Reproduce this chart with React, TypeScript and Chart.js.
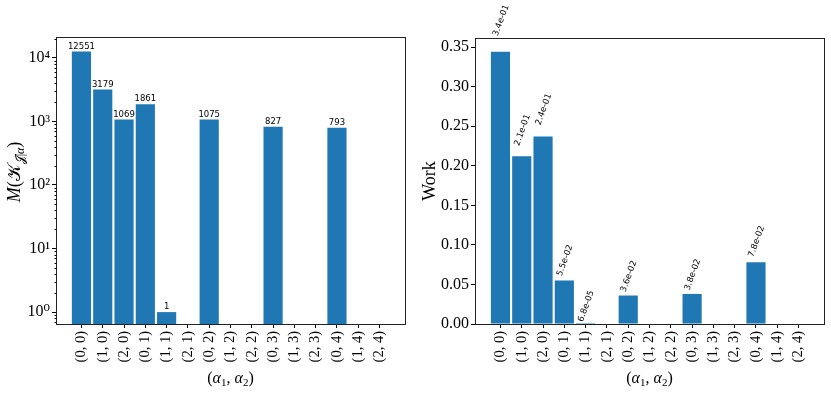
import React, { useEffect, useRef } from 'react';
import { Chart, registerables } from 'chart.js';

Chart.register(...registerables);

const categories = ['(0, 0)', '(1, 0)', '(2, 0)', '(0, 1)', '(1, 1)', '(2, 1)', '(0, 2)', '(1, 2)', '(2, 2)', '(0, 3)', '(1, 3)', '(2, 3)', '(0, 4)', '(1, 4)', '(2, 4)'];
const kernelSizes: (number | null)[] = [12551, 3179, 1069, 1861, 1, null, 1075, null, null, 827, null, null, 793, null, null];
const workValues = [0.344, 0.212, 0.237, 0.055, 0.000068, 0, 0.036, 0, 0, 0.038, 0, 0, 0.078, 0, 0];
const logTickValues = [1, 10, 100, 1000, 10000];
const logTickLabels = ['10⁰', '10¹', '10²', '10³', '10⁴'];
const workTickValues = [0, 0.05, 0.1, 0.15, 0.2, 0.25, 0.3, 0.35];
const workTickLabels = ['0.00', '0.05', '0.10', '0.15', '0.20', '0.25', '0.30', '0.35'];

const BAR = '#1f77b4';
const SERIF = '"Liberation Serif", "DejaVu Serif", serif';
const LABEL_FONT = '8.5px "DejaVu Sans", sans-serif';
const XTICK_FONT = `14.5px ${SERIF}`;

type Seg = { t: string; font: string; dy?: number };

function drawRich(ctx: CanvasRenderingContext2D, segs: Seg[], cx: number, cy: number, rotate: boolean) {
  ctx.save();
  ctx.translate(cx, cy);
  if (rotate) ctx.rotate(-Math.PI / 2);
  ctx.fillStyle = '#000';
  ctx.textBaseline = 'alphabetic';
  ctx.textAlign = 'left';
  let total = 0;
  for (const s of segs) {
    ctx.font = s.font;
    total += ctx.measureText(s.t).width;
  }
  let x = -total / 2;
  for (const s of segs) {
    ctx.font = s.font;
    ctx.fillText(s.t, x, s.dy || 0);
    x += ctx.measureText(s.t).width;
  }
  ctx.restore();
}

const xTitleSegs: Seg[] = [
  { t: '(', font: `16px ${SERIF}` },
  { t: 'α', font: `italic 16px ${SERIF}` },
  { t: '1', font: `11px ${SERIF}`, dy: 3 },
  { t: ', ', font: `16px ${SERIF}` },
  { t: 'α', font: `italic 16px ${SERIF}` },
  { t: '2', font: `11px ${SERIF}`, dy: 3 },
  { t: ')', font: `16px ${SERIF}` },
];

const leftYTitleSegs: Seg[] = [
  { t: 'M', font: `italic 18px ${SERIF}` },
  { t: '(', font: `18px ${SERIF}` },
  { t: '𝒦', font: `18px ${SERIF}` },
  { t: '𝒥|', font: `12px ${SERIF}`, dy: 4 },
  { t: 'α', font: `italic 12px ${SERIF}`, dy: 4 },
  { t: ')', font: `18px ${SERIF}` },
];

function fmtExp(v: number) {
  const s = v.toExponential(1);
  const [m, e] = s.split('e');
  const sign = e[0] === '-' ? '-' : '+';
  const digits = e.replace(/^[-+]/, '').padStart(2, '0');
  return `${m}e${sign}${digits}`;
}

const framePlugin = {
  id: 'frame',
  afterDraw(chart: any) {
    const { ctx, chartArea } = chart;
    const l = Math.round(chartArea.left) + 0.5;
    const t = Math.round(chartArea.top) + 0.5;
    const r = Math.round(chartArea.right) + 0.5;
    const b = Math.round(chartArea.bottom) + 0.5;
    ctx.save();
    ctx.strokeStyle = '#222';
    ctx.lineWidth = 1;
    ctx.strokeRect(l, t, r - l, b - t);
    // x tick labels, rotated 90 degrees, reading bottom to top
    const xs = chart.scales.x;
    ctx.fillStyle = '#000';
    ctx.font = XTICK_FONT;
    ctx.textAlign = 'right';
    ctx.textBaseline = 'middle';
    categories.forEach((c, i) => {
      ctx.save();
      ctx.translate(xs.getPixelForValue(i), chartArea.bottom + 7);
      ctx.rotate(-Math.PI / 2);
      ctx.fillText(c, 0, 0);
      ctx.restore();
    });
    ctx.restore();
  },
};

function xScaleOpts() {
  return {
    type: 'linear' as const,
    min: -1.195,
    max: 15.195,
    offset: false,
    afterBuildTicks: (s: any) => {
      s.ticks = categories.map((_, i) => ({ value: i }));
    },
    afterFit: (s: any) => {
      s.height = 69;
      s.paddingLeft = 0;
      s.paddingRight = 0;
      s.paddingTop = 0;
      s.paddingBottom = 0;
    },
    grid: { display: true, offset: false, drawOnChartArea: false, drawTicks: true, tickLength: 4, color: '#000', lineWidth: 1 },
    border: { display: false },
    ticks: { display: false },
  };
}

function yFit(width: number) {
  return (s: any) => {
    s.width = width;
    s.paddingLeft = 0;
    s.paddingRight = 0;
    s.paddingTop = 0;
    s.paddingBottom = 0;
  };
}

function LeftChart() {
  const ref = useRef<HTMLCanvasElement>(null);
  useEffect(() => {
    const labelsPlugin = {
      id: 'leftLabels',
      afterDraw(chart: any) {
        const { ctx } = chart;
        const xs = chart.scales.x;
        const ys = chart.scales.y;
        ctx.save();
        ctx.fillStyle = '#000';
        ctx.font = LABEL_FONT;
        ctx.textAlign = 'center';
        ctx.textBaseline = 'bottom';
        kernelSizes.forEach((v, i) => {
          if (v == null) return;
          ctx.fillText(String(v), xs.getPixelForValue(i), ys.getPixelForValue(v * 1.05) + 0.5);
        });
        // minor log ticks
        ctx.strokeStyle = '#000';
        ctx.lineWidth = 1;
        const left = Math.round(chart.chartArea.left) + 0.5;
        for (let d = -1; d <= 4; d++) {
          for (let k = 2; k <= 9; k++) {
            const val = k * Math.pow(10, d);
            if (val < ys.min || val > ys.max) continue;
            const y = Math.round(ys.getPixelForValue(val)) + 0.5;
            ctx.beginPath();
            ctx.moveTo(left - 2, y);
            ctx.lineTo(left, y);
            ctx.stroke();
          }
        }
        drawRich(ctx, xTitleSegs, (chart.chartArea.left + chart.chartArea.right) / 2, 383, false);
        drawRich(ctx, leftYTitleSegs, 20, 172, true);
        ctx.restore();
      },
    };
    const chart = new Chart(ref.current!, {
      type: 'bar',
      data: {
        datasets: [
          {
            data: kernelSizes.map((y, i) => ({ x: i, y })) as any,
            backgroundColor: BAR,
            borderWidth: 0,
            barPercentage: 0.9,
            categoryPercentage: 1,
          },
        ],
      },
      options: {
        responsive: false,
        animation: false,
        devicePixelRatio: 1,
        layout: { autoPadding: false, padding: { top: 37, right: 10, left: 0, bottom: 0 } },
        plugins: { legend: { display: false }, tooltip: { enabled: false } },
        scales: {
          x: xScaleOpts() as any,
          y: {
            type: 'logarithmic',
            min: 0.65,
            max: 21300,
            afterBuildTicks: (s: any) => {
              s.ticks = logTickValues.map((v) => ({ value: v, major: true }));
            },
            afterFit: yFit(56),
            grid: { display: true, drawOnChartArea: false, drawTicks: true, tickLength: 4, color: '#000', lineWidth: 1 },
            border: { display: false },
            ticks: {
              padding: 2,
              color: '#000',
              font: { family: SERIF, size: 16 },
              callback: (v: any) => {
                const idx = logTickValues.indexOf(Number(v));
                return idx >= 0 ? logTickLabels[idx] : '';
              },
            },
          },
        },
      },
      plugins: [framePlugin, labelsPlugin],
    });
    return () => chart.destroy();
  }, []);
  return <canvas ref={ref} width={415} height={393} style={{ position: 'absolute', left: 0, top: 0, width: 415, height: 393 }} />;
}

function RightChart() {
  const ref = useRef<HTMLCanvasElement>(null);
  useEffect(() => {
    const labelsPlugin = {
      id: 'rightLabels',
      afterDraw(chart: any) {
        const { ctx } = chart;
        const xs = chart.scales.x;
        const ys = chart.scales.y;
        const ang = (70 * Math.PI) / 180;
        ctx.save();
        ctx.fillStyle = '#000';
        ctx.font = LABEL_FONT;
        ctx.textAlign = 'left';
        ctx.textBaseline = 'bottom';
        workValues.forEach((v, i) => {
          if (!v) return;
          const s = fmtExp(v);
          const L = ctx.measureText(s).width;
          const h = 9.9;
          const x = xs.getPixelForValue(i);
          const y = ys.getPixelForValue(v * 1.05) - 1;
          const ox = x - (L * Math.cos(ang) - h * Math.sin(ang)) / 2;
          ctx.save();
          ctx.translate(ox, y);
          ctx.rotate(-ang);
          ctx.fillText(s, 0, 0);
          ctx.restore();
        });
        drawRich(ctx, xTitleSegs, (chart.chartArea.left + chart.chartArea.right) / 2, 383, false);
        drawRich(ctx, [{ t: 'Work', font: `18px ${SERIF}` }], 20, (chart.chartArea.top + chart.chartArea.bottom) / 2, true);
        ctx.restore();
      },
    };
    const chart = new Chart(ref.current!, {
      type: 'bar',
      data: {
        datasets: [
          {
            data: workValues.map((y, i) => ({ x: i, y })) as any,
            backgroundColor: BAR,
            borderWidth: 0,
            barPercentage: 0.9,
            categoryPercentage: 1,
          },
        ],
      },
      options: {
        responsive: false,
        animation: false,
        devicePixelRatio: 1,
        layout: { autoPadding: false, padding: { top: 38, right: 7, left: 0, bottom: 0 } },
        plugins: { legend: { display: false }, tooltip: { enabled: false } },
        scales: {
          x: xScaleOpts() as any,
          y: {
            type: 'linear',
            min: 0,
            max: 0.3615,
            afterBuildTicks: (s: any) => {
              s.ticks = workTickValues.map((v) => ({ value: v }));
            },
            afterFit: yFit(60),
            grid: { display: true, drawOnChartArea: false, drawTicks: true, tickLength: 4, color: '#000', lineWidth: 1 },
            border: { display: false },
            ticks: {
              padding: 2,
              color: '#000',
              font: { family: SERIF, size: 16 },
              callback: (v: any) => {
                const idx = workTickValues.findIndex((t) => Math.abs(t - Number(v)) < 1e-9);
                return idx >= 0 ? workTickLabels[idx] : '';
              },
            },
          },
        },
      },
      plugins: [framePlugin, labelsPlugin],
    });
    return () => chart.destroy();
  }, []);
  return <canvas ref={ref} width={416} height={393} style={{ position: 'absolute', left: 415, top: 0, width: 416, height: 393 }} />;
}

export default function App() {
  return (
    <div style={{ position: 'fixed', left: 0, top: 0, width: 831, height: 393, background: '#fff', overflow: 'hidden' }}>
      <LeftChart />
      <RightChart />
    </div>
  );
}
